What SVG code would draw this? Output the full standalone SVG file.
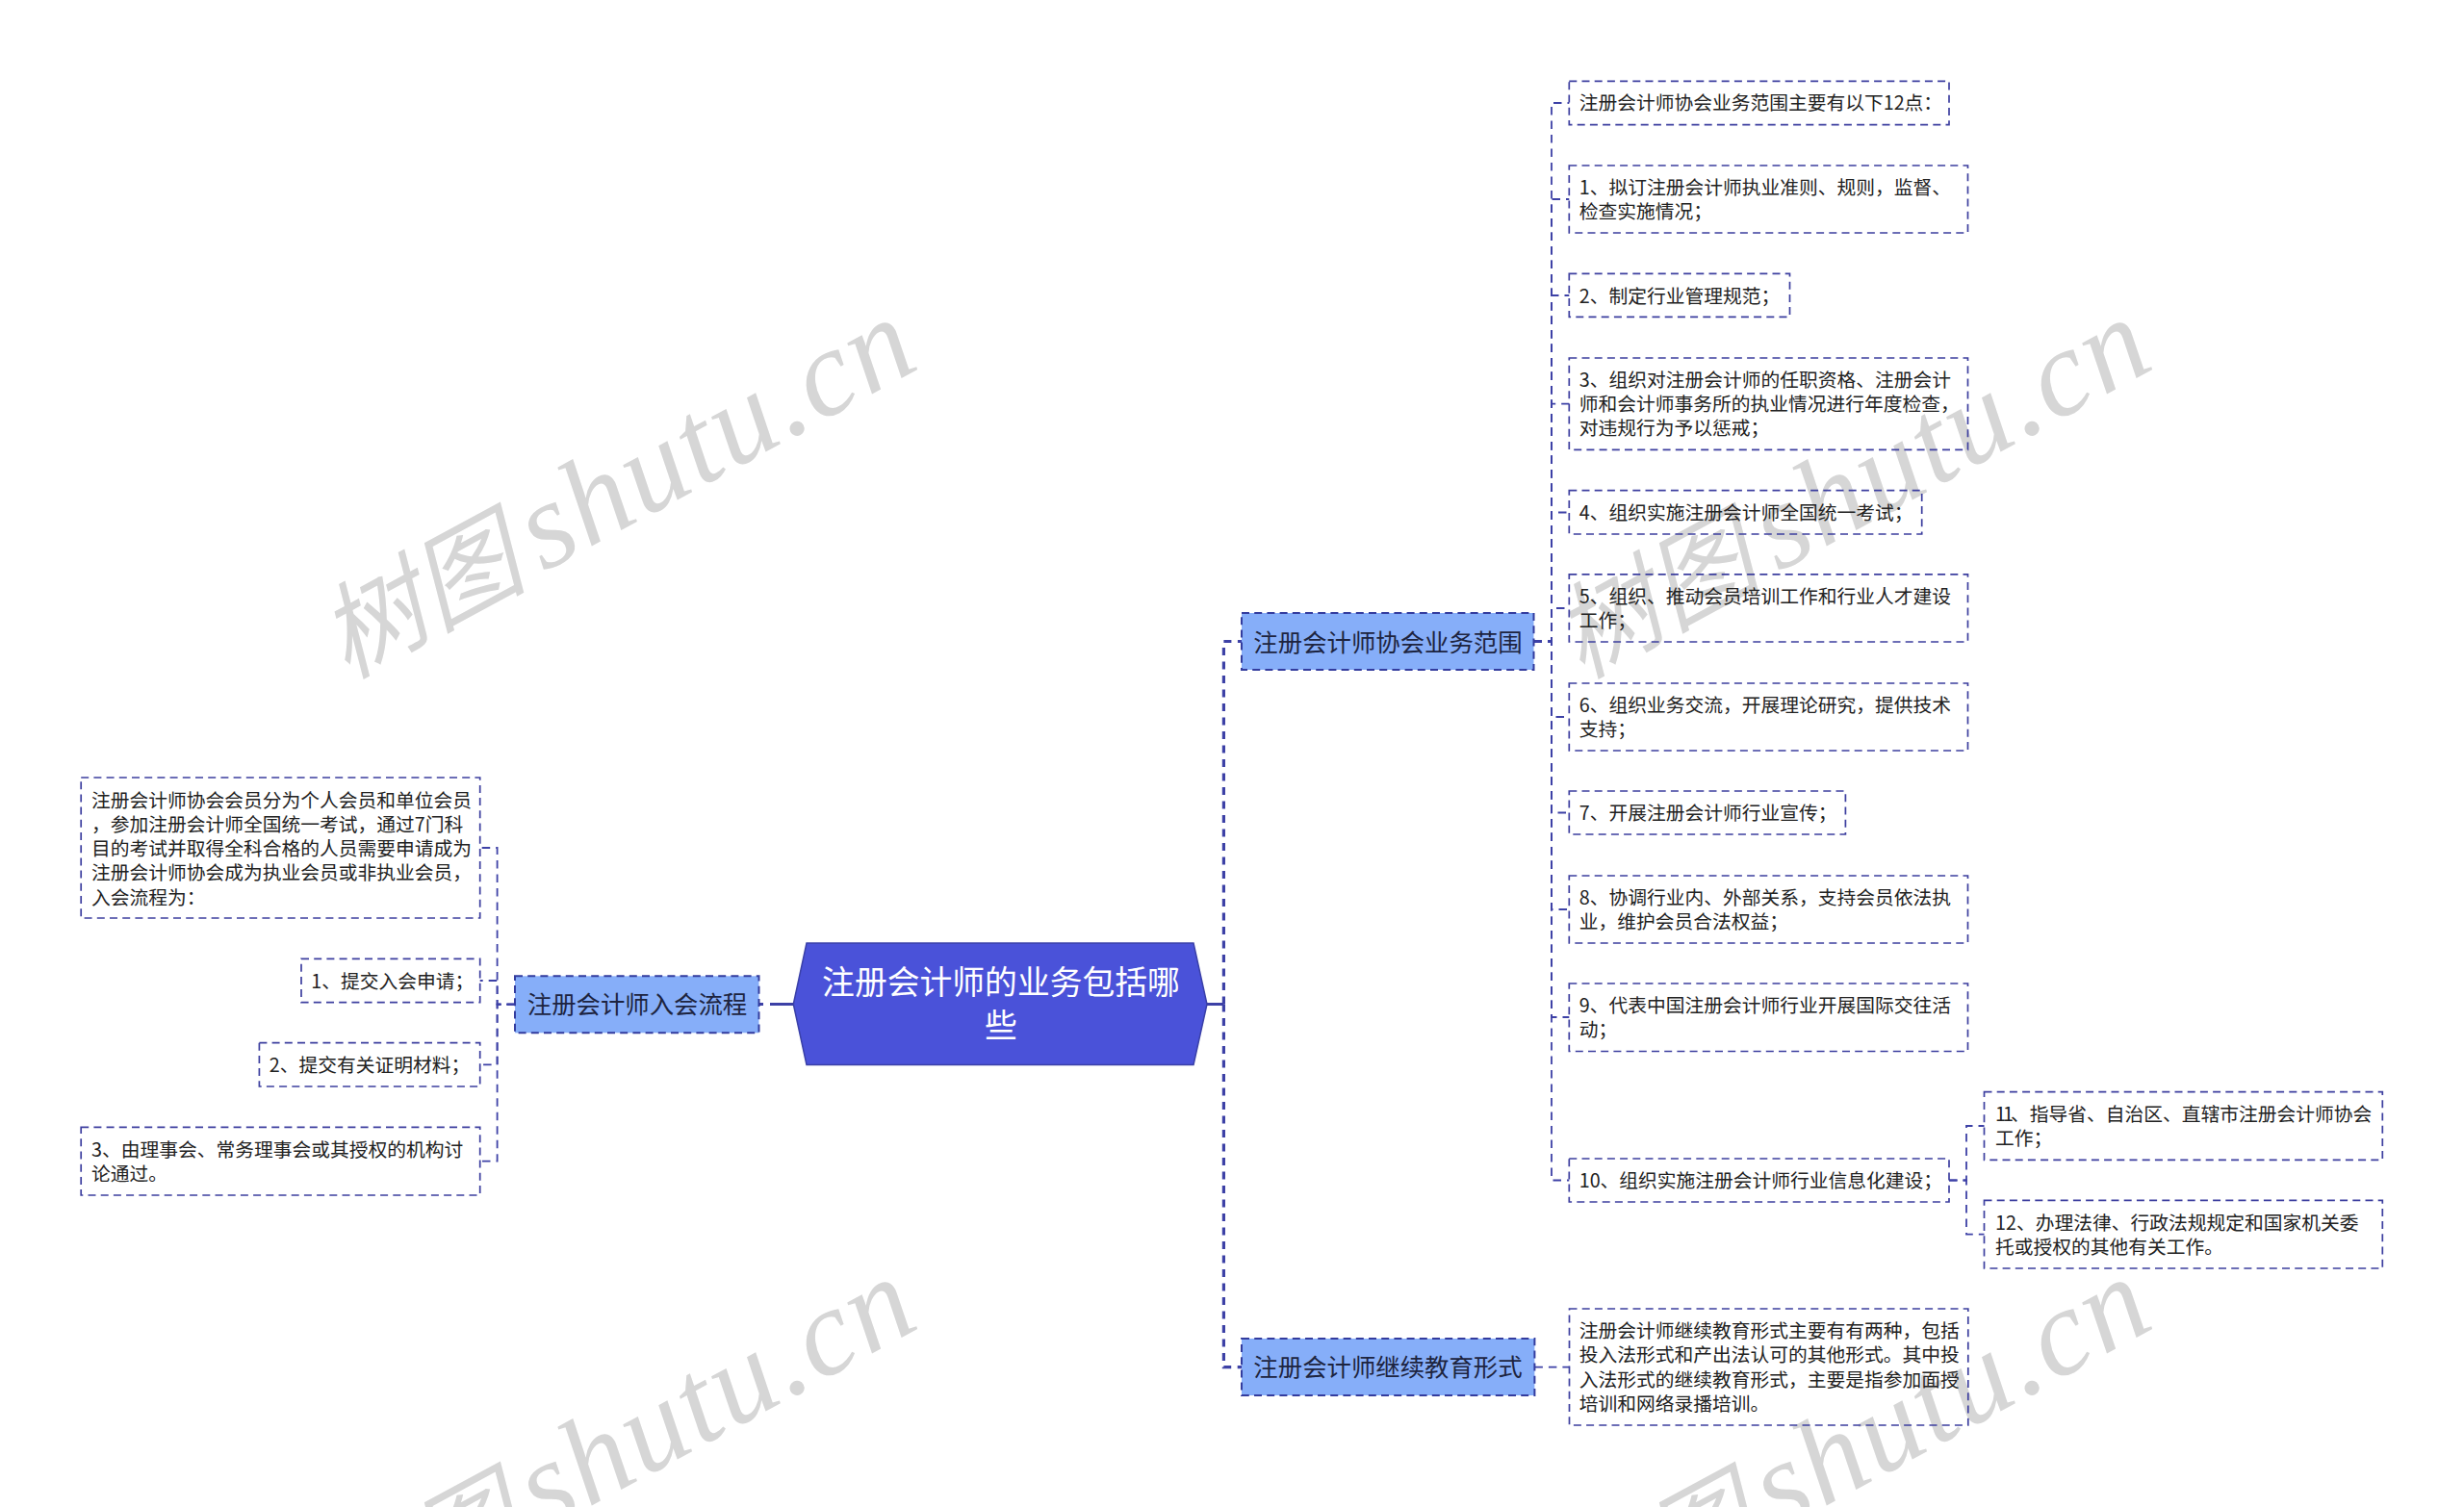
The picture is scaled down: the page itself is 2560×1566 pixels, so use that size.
<svg xmlns="http://www.w3.org/2000/svg" width="2560" height="1566" viewBox="0 0 2560 1566">
<style>
text{font-family:"Noto Sans CJK SC","Noto Sans",sans-serif}
.wm text{fill:#d6d6d6;font-style:italic}
.wm .cj{font-size:108px;font-family:"Noto Sans CJK SC",serif}
.wm .la{font-size:128px;letter-spacing:2.5px;font-family:"Liberation Serif",serif}
.leaf rect{fill:none;stroke:#3d3f9f;stroke-width:1.7;stroke-dasharray:8 5.2}
.leaf text{font-size:19.75px;fill:#222}
.branch rect{fill:#86aef9;stroke:#333c9e;stroke-width:2;stroke-dasharray:8 5.2}
.branch text{font-size:25.4px;fill:#1d2440;text-anchor:middle}
.root polygon{fill:#4a52d9;stroke:#3a40a8;stroke-width:1.5}
.root text{font-size:33.8px;fill:#fff;text-anchor:middle}
.c1,.c2,.c3{fill:none;stroke:#3d41a6}
.c1{stroke-width:3.2;stroke-dasharray:8 6.5}
.c2{stroke-width:1.8;stroke-dasharray:8.5 6}
.c3{stroke-width:3}
</style>
<rect width="2560" height="1566" fill="#fff"/>
<g id="watermarks" class="wm">
<g transform="translate(360,706) rotate(-28.5)"><text class="cj">树图</text><text class="la" x="233">shutu.cn</text></g>
<g transform="translate(1643,706) rotate(-28.5)"><text class="cj">树图</text><text class="la" x="233">shutu.cn</text></g>
<g transform="translate(360,1703) rotate(-28.5)"><text class="cj">树图</text><text class="la" x="233">shutu.cn</text></g>
<g transform="translate(1643,1703) rotate(-28.5)"><text class="cj">树图</text><text class="la" x="233">shutu.cn</text></g>
</g>
<g id="connectors">
<path class="c3" d="M1254,1043.5H1271.4"/>
<path class="c3" d="M824,1043.5H788.5" stroke-dasharray="24 7"/>
<path class="c1" d="M1271.4,1043.5V666.5H1290"/>
<path class="c1" d="M1271.4,1043.5V1420.7H1290"/>
<path class="c2" d="M535,1043.7H516.6V881H498.7"/>
<path class="c2" d="M535,1043.7H516.6V1019H498.7"/>
<path class="c2" d="M535,1043.7H516.6V1106.3H498.7"/>
<path class="c2" d="M535,1043.7H516.6V1206.7H498.7"/>
<path class="c2" d="M1593.5,666.5H1612V107H1630.3"/>
<path class="c2" d="M1593.5,666.5H1612V207H1630.3"/>
<path class="c2" d="M1593.5,666.5H1612V307H1630.3"/>
<path class="c2" d="M1593.5,666.5H1612V419.7H1630.3"/>
<path class="c2" d="M1593.5,666.5H1612V532.5H1630.3"/>
<path class="c2" d="M1593.5,666.5H1612V632H1630.3"/>
<path class="c2" d="M1593.5,666.5H1612V745H1630.3"/>
<path class="c2" d="M1593.5,666.5H1612V844.5H1630.3"/>
<path class="c2" d="M1593.5,666.5H1612V945H1630.3"/>
<path class="c2" d="M1593.5,666.5H1612V1057H1630.3"/>
<path class="c2" d="M1593.5,666.5H1612V1226.5H1630.3"/>
<path class="c2" d="M1594.4,1420.7H1630.5"/>
<path class="c2" d="M2025,1226.5H2043V1170H2061.5"/>
<path class="c2" d="M2025,1226.5H2043V1282.7H2061.5"/>
</g>
<g id="root" class="root">
<polygon points="824.3,1043.5 838,980 1240,980 1254,1043.5 1240,1106.5 838,1106.5"/>
<text x="1040" y="1033">注册会计师的业务包括哪</text>
<text x="1040" y="1078">些</text>
</g>
<g id="branch-join" class="branch">
<rect x="535" y="1014.3" width="253.5" height="59"/>
<text x="662" y="1052.8">注册会计师入会流程</text>
</g>
<g id="branch-scope" class="branch">
<rect x="1290" y="637" width="303.5" height="59"/>
<text x="1442" y="676.5">注册会计师协会业务范围</text>
</g>
<g id="branch-edu" class="branch">
<rect x="1290" y="1391" width="304.4" height="59"/>
<text x="1442" y="1430">注册会计师继续教育形式</text>
</g>
<g id="join-intro" class="leaf">
<rect x="84.2" y="808" width="414.5" height="146"/>
<text x="95" y="838.5">注册会计师协会会员分为个人会员和单位会员</text>
<text x="95" y="863.8">，参加注册会计师全国统一考试，通过7门科</text>
<text x="95" y="889.1">目的考试并取得全科合格的人员需要申请成为</text>
<text x="95" y="914.4">注册会计师协会成为执业会员或非执业会员，</text>
<text x="95" y="939.7">入会流程为：</text>
</g>
<g id="join-1" class="leaf">
<rect x="313" y="996.3" width="185.7" height="45.4"/>
<text x="323.2" y="1026.8">1、提交入会申请；</text>
</g>
<g id="join-2" class="leaf">
<rect x="269.4" y="1083.7" width="229.3" height="45.3"/>
<text x="279.7" y="1113.8">2、提交有关证明材料；</text>
</g>
<g id="join-3" class="leaf">
<rect x="84.2" y="1171.3" width="414.5" height="70.7"/>
<text x="95" y="1201.8">3、由理事会、常务理事会或其授权的机构讨</text>
<text x="95" y="1227.1">论通过。</text>
</g>
<g id="scope-0" class="leaf">
<rect x="1630.3" y="84.3" width="394.7" height="45.4"/>
<text x="1640.7" y="114.3">注册会计师协会业务范围主要有以下12点：</text>
</g>
<g id="scope-1" class="leaf">
<rect x="1630.3" y="172" width="414.2" height="70"/>
<text x="1640.7" y="201.8">1、拟订注册会计师执业准则、规则，监督、</text>
<text x="1640.7" y="227.1">检查实施情况；</text>
</g>
<g id="scope-2" class="leaf">
<rect x="1630.3" y="284.3" width="229.2" height="45"/>
<text x="1640.7" y="314.5">2、制定行业管理规范；</text>
</g>
<g id="scope-3" class="leaf">
<rect x="1630.3" y="372" width="414.2" height="95.3"/>
<text x="1640.7" y="401.8">3、组织对注册会计师的任职资格、注册会计</text>
<text x="1640.7" y="427.1">师和会计师事务所的执业情况进行年度检查，</text>
<text x="1640.7" y="452.4">对违规行为予以惩戒；</text>
</g>
<g id="scope-4" class="leaf">
<rect x="1630.3" y="509.7" width="366.4" height="45.3"/>
<text x="1640.7" y="539.8">4、组织实施注册会计师全国统一考试；</text>
</g>
<g id="scope-5" class="leaf">
<rect x="1630.3" y="596.8" width="414.2" height="70.2"/>
<text x="1640.7" y="626.8">5、组织、推动会员培训工作和行业人才建设</text>
<text x="1640.7" y="652.1">工作；</text>
</g>
<g id="scope-6" class="leaf">
<rect x="1630.3" y="710" width="414.2" height="70"/>
<text x="1640.7" y="739.8">6、组织业务交流，开展理论研究，提供技术</text>
<text x="1640.7" y="765.1">支持；</text>
</g>
<g id="scope-7" class="leaf">
<rect x="1630.3" y="822" width="287.1" height="45"/>
<text x="1640.7" y="852">7、开展注册会计师行业宣传；</text>
</g>
<g id="scope-8" class="leaf">
<rect x="1630.3" y="910" width="414.2" height="70"/>
<text x="1640.7" y="939.8">8、协调行业内、外部关系，支持会员依法执</text>
<text x="1640.7" y="965.1">业，维护会员合法权益；</text>
</g>
<g id="scope-9" class="leaf">
<rect x="1630.3" y="1022" width="414.2" height="70.5"/>
<text x="1640.7" y="1051.8">9、代表中国注册会计师行业开展国际交往活</text>
<text x="1640.7" y="1077.1">动；</text>
</g>
<g id="scope-10" class="leaf">
<rect x="1630.3" y="1204" width="394.7" height="45"/>
<text x="1640.7" y="1233.8">10、组织实施注册会计师行业信息化建设；</text>
</g>
<g id="scope-11" class="leaf">
<rect x="2061.5" y="1134.7" width="413.8" height="70.6"/>
<text x="2073" y="1164.8"><tspan letter-spacing="-3">11</tspan>、指导省、自治区、直辖市注册会计师协会</text>
<text x="2073" y="1190.1">工作；</text>
</g>
<g id="scope-12" class="leaf">
<rect x="2061.5" y="1247.3" width="413.8" height="70.7"/>
<text x="2073" y="1277.8">12、办理法律、行政法规规定和国家机关委</text>
<text x="2073" y="1303.1">托或授权的其他有关工作。</text>
</g>
<g id="edu-0" class="leaf">
<rect x="1630.5" y="1360" width="414.3" height="121"/>
<text x="1640.7" y="1390">注册会计师继续教育形式主要有有两种，包括</text>
<text x="1640.7" y="1415.3">投入法形式和产出法认可的其他形式。其中投</text>
<text x="1640.7" y="1440.6">入法形式的继续教育形式，主要是指参加面授</text>
<text x="1640.7" y="1465.9">培训和网络录播培训。</text>
</g>
</svg>
